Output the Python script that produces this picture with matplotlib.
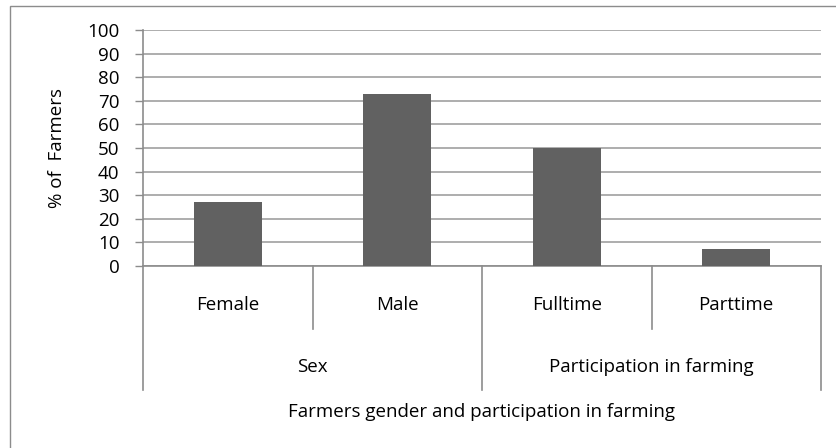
import matplotlib
matplotlib.use("Agg")
import matplotlib.pyplot as plt
from matplotlib.patches import Rectangle
import matplotlib.transforms as mtransforms

plt.rcParams['font.family'] = ['Open Sans', 'DejaVu Sans']

# Data
categories = ["Female", "Male", "Fulltime", "Parttime"]
values = [27, 73, 50, 7]
groups = ["Sex", "Participation in farming"]
group_sizes = [2, 2]
y_ticks = list(range(0, 101, 10))
y_label = "% of  Farmers"
x_title = "Farmers gender and participation in farming"

FS = 13.5
W, H = 836, 448
fig = plt.figure(figsize=(W / 100, H / 100), dpi=100)

# outer chart frame (runs off the right and bottom edges)
fig.patches.append(Rectangle((10 / W, -0.1), 1.2, 1 - 6 / H + 0.1,
                             transform=fig.transFigure, fill=False,
                             edgecolor="#8c8c8c", linewidth=1.0))

left, right, top, bottom = 143, 821, 30, 266
ax = fig.add_axes([left / W, 1 - bottom / H, (right - left) / W, (bottom - top) / H])

x = list(range(len(categories)))
ax.bar(x, values, width=0.4, color="#616161", zorder=3)

ax.set_xlim(-0.5, len(categories) - 0.5)
ax.set_ylim(0, 100)
ax.set_yticks(y_ticks)
ax.set_yticklabels([str(t) for t in y_ticks], fontsize=FS)
ax.yaxis.grid(True, color="#a0a0a0", linewidth=1.2, zorder=0)
ax.set_axisbelow(True)
ax.tick_params(axis="y", length=6, width=1, color="#8c8c8c", pad=11, direction="out")
ax.set_xticks([])

for s in ["top", "right"]:
    ax.spines[s].set_visible(False)
for s in ["left", "bottom"]:
    ax.spines[s].set_color("#8c8c8c")
    ax.spines[s].set_linewidth(1.2)

ax.set_ylabel(y_label, fontsize=FS, labelpad=15)

trans = mtransforms.blended_transform_factory(ax.transData, ax.transAxes)
line_kw = dict(color="#8c8c8c", linewidth=1.2, transform=trans, clip_on=False)

# category labels and inner dividers
inner_y = -0.267
for i, c in enumerate(categories):
    ax.text(i, -0.165, c, transform=trans, ha="center", va="center", fontsize=FS)
start = -0.5
bounds = [start]
for g in group_sizes:
    start += g
    bounds.append(start)
for i in range(len(categories) - 1):
    b = i + 0.5
    if b not in bounds:
        ax.plot([b, b], [0, inner_y], **line_kw)

# group labels and outer dividers
outer_y = -0.525
for b in bounds:
    ax.plot([b, b], [0, outer_y], **line_kw)
for gi, g in enumerate(groups):
    c = (bounds[gi] + bounds[gi + 1]) / 2
    ax.text(c, -0.428, g, transform=trans, ha="center", va="center", fontsize=FS)

ax.text(0.5, -0.619, x_title, transform=ax.transAxes, ha="center", va="center", fontsize=FS)

fig.savefig("out.png", dpi=100)
